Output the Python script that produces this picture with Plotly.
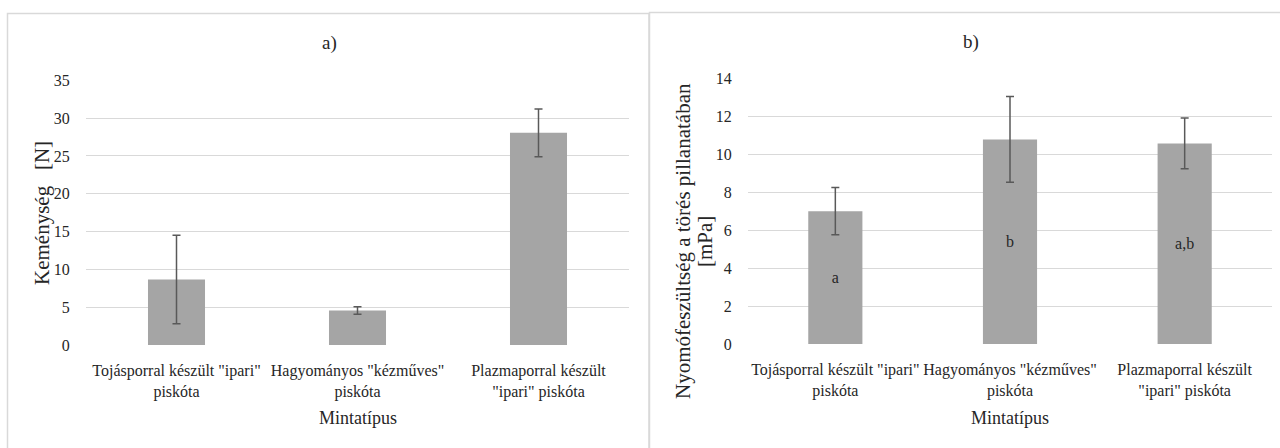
import plotly.graph_objects as go

FONT = "Liberation Serif, Times New Roman, DejaVu Serif, serif"
TXT = "#262626"

categories = [
    'Tojásporral készült "ipari"<br>piskóta',
    'Hagyományos "kézműves"<br>piskóta',
    'Plazmaporral készült<br>"ipari" piskóta',
]
hardness = [8.65, 4.55, 28.05]
hardness_err = [5.85, 0.5, 3.15]
stress = [7.0, 10.78, 10.57]
stress_err = [1.24, 2.26, 1.34]
stress_letters = ["a", "b", "a,b"]
left_ticks = [0, 5, 10, 15, 20, 25, 30, 35]
right_ticks = [0, 2, 4, 6, 8, 10, 12, 14]

W, H = 1280, 448
def px(x):
    return x / W
def py(y):
    return 1 - y / H

bar_color = "#A5A5A5"
err = dict(type="data", color="#595959", thickness=1.5, width=4)

fig = go.Figure()
fig.add_trace(go.Bar(
    x=categories, y=hardness, width=0.315, marker=dict(color=bar_color, line=dict(width=0)),
    error_y=dict(array=hardness_err, **err), xaxis="x", yaxis="y", showlegend=False,
    hoverinfo="skip"))
fig.add_trace(go.Bar(
    x=categories, y=stress, width=0.31, marker=dict(color=bar_color, line=dict(width=0)),
    error_y=dict(array=stress_err, **err), text=stress_letters, textposition="inside",
    insidetextanchor="middle", textangle=0,
    textfont=dict(family=FONT, size=16, color=TXT),
    xaxis="x2", yaxis="y2", showlegend=False, hoverinfo="skip"))

axis_common = dict(showline=False, zeroline=False, automargin=False,
                   tickfont=dict(family=FONT, size=16, color=TXT))
grid = dict(showgrid=True, gridcolor="#D9D9D9", gridwidth=1.3)

fig.update_layout(
    width=W, height=H, margin=dict(l=0, r=0, t=0, b=0),
    paper_bgcolor="white", plot_bgcolor="white",
    font=dict(family=FONT, color=TXT),
    xaxis=dict(domain=[px(86), px(629)], anchor="y", showgrid=False,
               ticks="outside", ticklen=11, tickcolor="rgba(0,0,0,0)", **axis_common),
    yaxis=dict(domain=[py(345), py(80.3)], anchor="x", range=[0, 35], tickvals=left_ticks,
               ticks="outside", ticklen=12, tickcolor="rgba(0,0,0,0)", **grid, **axis_common),
    xaxis2=dict(domain=[px(748), px(1272)], anchor="y2", showgrid=False,
                ticks="outside", ticklen=11, tickcolor="rgba(0,0,0,0)", **axis_common),
    yaxis2=dict(domain=[py(344), py(78.3)], anchor="x2", range=[0, 14], tickvals=right_ticks,
                ticks="outside", ticklen=12, tickcolor="rgba(0,0,0,0)", **grid, **axis_common),
)

border = dict(color="#D9D9D9", width=1.5)
fig.add_shape(type="rect", xref="paper", yref="paper", x0=px(7.5), x1=px(649),
              y0=py(470), y1=py(13.5), line=border, fillcolor="rgba(0,0,0,0)", layer="below")
fig.add_shape(type="rect", xref="paper", yref="paper", x0=px(649.5), x1=px(1300),
              y0=py(470), y1=py(12.5), line=border, fillcolor="rgba(0,0,0,0)", layer="below")

def ann(text, x, y, size, angle=0):
    fig.add_annotation(text=text, xref="paper", yref="paper", x=px(x), y=py(y),
                       xanchor="center", yanchor="middle", showarrow=False, textangle=angle,
                       font=dict(family=FONT, size=size, color=TXT))

ann("a)", 329, 43, 19)
ann("b)", 971, 42.5, 19)
ann("Keménység\u00a0\u00a0 [N]", 42, 213, 21, -90)
ann("Nyomófeszültség a törés pillanatában", 683, 241, 21, -90)
ann("[mPa]", 705, 242, 21, -90)
ann("Mintatípus", 358, 418, 18)
ann("Mintatípus", 1010, 418, 18)

fig.write_html("out.html")
